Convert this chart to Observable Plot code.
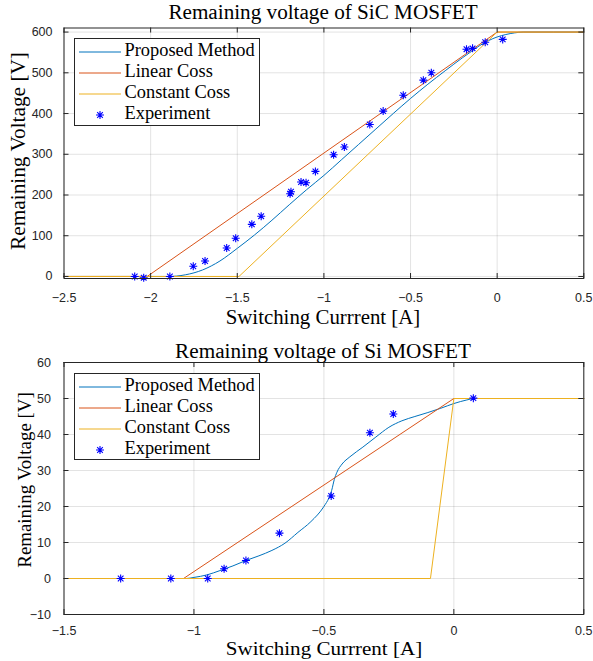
<!DOCTYPE html>
<html>
<head>
<meta charset="utf-8">
<script src="https://cdn.jsdelivr.net/npm/d3@7"></script>
<script src="https://cdn.jsdelivr.net/npm/@observablehq/plot@0.6"></script>
<style>
  html, body { margin: 0; padding: 0; background: #fff; }
  #wrap { position: relative; width: 593px; height: 661px; overflow: hidden; background: #fff; }
  .panel { position: absolute; left: 0; }
</style>
</head>
<body>
<div id="wrap"></div>
<script>
// ---------------- data ----------------
const legendLabels = ["Proposed Method", "Linear Coss", "Constant Coss", "Experiment"];

// SiC MOSFET (top)
const sicTitle = "Remaining voltage of SiC MOSFET";
const sicXTicks = [-2.5, -2, -1.5, -1, -0.5, 0, 0.5];
const sicYTicks = [0, 100, 200, 300, 400, 500, 600];
const sicProposedI = [-2.5, -1.9, -1.8, -1.7, -1.6, -1.5, -1.4, -1.3, -1.2, -1.1, -1.0, -0.9, -0.8, -0.7, -0.6, -0.5, -0.4, -0.3, -0.2, -0.15, -0.1, -0.05, 0, 0.05, 0.1, 0.15, 0.5];
const sicProposedV = [0, 0, 4, 16, 38, 69, 102, 138, 176, 213, 248, 286, 324, 362, 400, 437, 472, 505, 537, 552, 567, 579, 588, 594, 598, 600, 600];
const sicLinearI = [-2.5, -2.02, 0, 0.5];
const sicLinearV = [0, 0, 600, 600];
const sicConstantI = [-2.5, -1.49, 0, 0.5];
const sicConstantV = [0, 0, 600, 600];
const sicExpI = [-2.092, -2.04, -1.889, -1.754, -1.686, -1.561, -1.509, -1.416, -1.362, -1.195, -1.19, -1.132, -1.103, -1.049, -0.944, -0.882, -0.735, -0.658, -0.542, -0.426, -0.38, -0.177, -0.142, -0.069, 0.032];
const sicExpV = [0, -3, 0, 25, 38, 70, 94, 128, 148, 203, 208, 232, 230, 258, 299, 318, 373, 406, 445, 482, 500, 558, 560, 575, 582];

// Si MOSFET (bottom)
const siTitle = "Remaining voltage of Si MOSFET";
const siXTicks = [-1.5, -1, -0.5, 0, 0.5];
const siYTicks = [-10, 0, 10, 20, 30, 40, 50, 60];
const siProposedI = [-1.5, -1.03, -1.0, -0.95, -0.9, -0.85, -0.8, -0.75, -0.7, -0.65, -0.6, -0.55, -0.5, -0.48, -0.47, -0.46, -0.45, -0.43, -0.4, -0.35, -0.3, -0.25, -0.2, -0.15, -0.1, -0.05, 0, 0.05, 0.08, 0.5];
const siProposedV = [0, 0, 0.3, 1.0, 2.2, 3.5, 5.0, 6.3, 7.8, 9.8, 12.8, 15.8, 20, 22.5, 24.5, 27.5, 29.5, 31.8, 33.8, 36.5, 39.3, 42, 43.8, 45, 46.1, 47.3, 48.6, 49.6, 50, 50];
const siLinearI = [-1.5, -1.04, 0, 0.5];
const siLinearV = [0, 0, 50, 50];
const siConstantI = [-1.5, -0.09, 0, 0.5];
const siConstantV = [0, 0, 50, 50];
const siExpI = [-1.282, -1.089, -0.947, -0.884, -0.80, -0.671, -0.472, -0.323, -0.233, 0.075];
const siExpV = [0, 0, 0, 2.7, 5, 12.6, 22.9, 40.5, 45.7, 50.1];

const xLabel = "Switching Currrent [A]";
const yLabel = "Remaining Voltage [V]";

// ---------------- drawing ----------------
const COLORS = { proposed: "#0072BD", linear: "#D95319", constant: "#EDB120", exp: "#0000FF" };
const INK = "#262626";
const SERIF = "'Liberation Serif', 'Times New Roman', serif";
const wrap = document.getElementById("wrap");

const asterisk = {
  draw(ctx, size) {
    const r = Math.sqrt(size / Math.PI), d = r * Math.SQRT1_2;
    ctx.moveTo(0, -r); ctx.lineTo(0, r);
    ctx.moveTo(-r, 0); ctx.lineTo(r, 0);
    ctx.moveTo(-d, -d); ctx.lineTo(d, d);
    ctx.moveTo(-d, d); ctx.lineTo(d, -d);
  }
};

const rows = (I, V) => I.map((x, i) => ({ x, y: V[i] }));
const fmt = d => String(d).replace("-", "\u2212");

function panel(c) {
  const W = 593, ml = 63.5, mr = 9.7, tk = 5;
  const innerH = c.height - c.marginTop - c.marginBottom;
  const innerW = W - ml - mr;
  const svg = Plot.plot({
    width: W, height: c.height,
    marginLeft: ml, marginRight: mr, marginTop: c.marginTop, marginBottom: c.marginBottom,
    x: { domain: c.xDomain },
    y: { domain: c.yDomain },
    style: { fontFamily: "'Liberation Sans', Arial, sans-serif", fontSize: "12.5px", color: INK, background: "transparent" },
    marks: [
      Plot.gridX(c.xTicks, { stroke: INK, strokeOpacity: 0.13 }),
      Plot.gridY(c.yTicks, { stroke: INK, strokeOpacity: 0.13 }),
      Plot.line(rows(c.proposedI, c.proposedV), { x: "x", y: "y", stroke: COLORS.proposed, strokeWidth: 1, curve: "monotone-x" }),
      Plot.line(rows(c.linearI, c.linearV), { x: "x", y: "y", stroke: COLORS.linear, strokeWidth: 1 }),
      Plot.line(rows(c.constantI, c.constantV), { x: "x", y: "y", stroke: COLORS.constant, strokeWidth: 1 }),
      Plot.dot(rows(c.expI, c.expV), { x: "x", y: "y", symbol: asterisk, r: 4, stroke: COLORS.exp, fill: "none", strokeWidth: 1.1 }),
      Plot.frame({ stroke: INK, strokeWidth: 1 }),
      Plot.tickX(c.xTicks, { x: d => d, insetTop: innerH - tk, stroke: INK }),
      Plot.tickX(c.xTicks, { x: d => d, insetBottom: innerH - tk, stroke: INK }),
      Plot.tickY(c.yTicks, { y: d => d, insetRight: innerW - tk, stroke: INK }),
      Plot.tickY(c.yTicks, { y: d => d, insetLeft: innerW - tk, stroke: INK }),
      Plot.axisX(c.xTicks, { tickSize: 0, tickPadding: c.xPad, tickFormat: fmt, label: null }),
      Plot.axisY(c.yTicks, { tickSize: 0, tickPadding: c.yPad, tickFormat: fmt, label: null })
    ]
  });
  const holder = document.createElement("div");
  holder.className = "panel";
  holder.style.top = c.top + "px";
  holder.appendChild(svg);
  wrap.appendChild(holder);
}

function addText(txt, o) {
  const el = document.createElement("div");
  el.textContent = txt;
  el.style.cssText = `position:absolute;font-family:${SERIF};font-size:${o.size}px;line-height:1;white-space:nowrap;color:#000;z-index:5;`;
  wrap.appendChild(el);
  const k = o.w ? o.w / el.offsetWidth : 1;
  if (o.rotate) {
    el.style.left = (o.baseline - 0.3375 * o.size) + "px";
    el.style.top = o.c + "px";
    el.style.transform = `translate(-50%,-50%) rotate(-90deg) scale(${k},1)`;
  } else {
    el.style.left = o.c + "px";
    el.style.top = (o.baseline - 0.8375 * o.size) + "px";
    el.style.transform = `translateX(-50%) scale(${k},1)`;
  }
}

function addLegend(left, top, w, h, firstBaseline, step, size) {
  const NS = "http://www.w3.org/2000/svg";
  const box = document.createElement("div");
  box.style.cssText = `position:absolute;left:${left}px;top:${top}px;width:${w}px;height:${h}px;box-sizing:border-box;border:1px solid ${INK};background:#fff;z-index:4;`;
  wrap.appendChild(box);
  const keys = ["proposed", "linear", "constant", "exp"];
  legendLabels.forEach((name, i) => {
    const base = firstBaseline + i * step;
    const lineY = base - 0.25 * size;
    const s = document.createElementNS(NS, "svg");
    s.setAttribute("width", 50); s.setAttribute("height", 12);
    s.style.cssText = `position:absolute;left:3px;top:${lineY - 6}px;overflow:visible;`;
    if (keys[i] === "exp") {
      const p = document.createElementNS(NS, "path");
      const r = 4, d = r * Math.SQRT1_2;
      p.setAttribute("d", `M0,${-r}V${r}M${-r},0H${r}M${-d},${-d}L${d},${d}M${-d},${d}L${d},${-d}`);
      p.setAttribute("transform", "translate(22,6)");
      p.setAttribute("stroke", COLORS.exp); p.setAttribute("fill", "none"); p.setAttribute("stroke-width", 1.1);
      s.appendChild(p);
    } else {
      const l = document.createElementNS(NS, "line");
      l.setAttribute("x1", 1); l.setAttribute("x2", 43); l.setAttribute("y1", 6); l.setAttribute("y2", 6);
      l.setAttribute("stroke", COLORS[keys[i]]); l.setAttribute("stroke-width", 1);
      s.appendChild(l);
    }
    box.appendChild(s);
    const t = document.createElement("div");
    t.textContent = name;
    t.style.cssText = `position:absolute;left:49.5px;top:${base - 0.8375 * size}px;font-family:${SERIF};font-size:${size}px;line-height:1;white-space:nowrap;color:#000;`;
    box.appendChild(t);
  });
}

// top panel
panel({
  top: 0, height: 332, marginTop: 27.5, marginBottom: 54,
  xDomain: [-2.5, 0.5], yDomain: [-5, 610], xTicks: sicXTicks, yTicks: sicYTicks,
  xPad: 15, yPad: 11.5,
  proposedI: sicProposedI, proposedV: sicProposedV,
  linearI: sicLinearI, linearV: sicLinearV,
  constantI: sicConstantI, constantV: sicConstantV,
  expI: sicExpI, expV: sicExpV
});
// bottom panel
panel({
  top: 332, height: 329, marginTop: 30, marginBottom: 47,
  xDomain: [-1.5, 0.5], yDomain: [-10, 60], xTicks: siXTicks, yTicks: siYTicks,
  xPad: 12, yPad: 13,
  proposedI: siProposedI, proposedV: siProposedV,
  linearI: siLinearI, linearV: siLinearV,
  constantI: siConstantI, constantV: siConstantV,
  expI: siExpI, expV: siExpV
});

addText(sicTitle, { c: 322.5, baseline: 19, size: 20, w: 309 });
addText(xLabel, { c: 323, baseline: 323.5, size: 20, w: 195 });
addText(yLabel, { rotate: true, c: 151, baseline: 24.5, size: 20, w: 198 });

addText(siTitle, { c: 323, baseline: 357.5, size: 20, w: 296 });
addText(xLabel, { c: 323.5, baseline: 655, size: 19, w: 196 });
addText(yLabel, { rotate: true, c: 479.5, baseline: 31, size: 18, w: 175 });

addLegend(74, 38.3, 185.5, 88, 17.4, 20.9, 18.4);
addLegend(74, 373.3, 185.5, 86.5, 17.4, 20.9, 18.4);
</script>
</body>
</html>
